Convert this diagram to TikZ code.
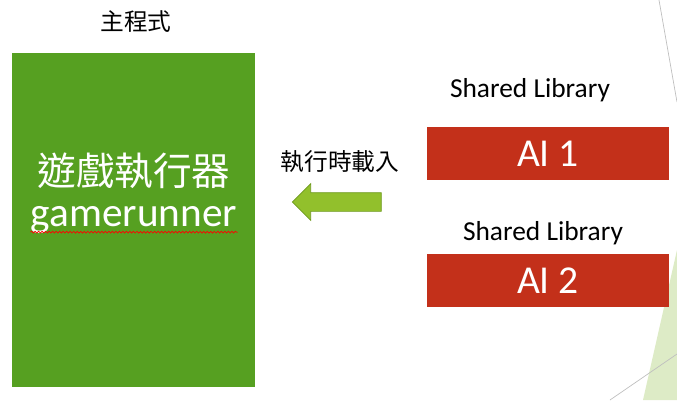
\documentclass[tikz,border=0pt]{standalone}
\usepackage{fontspec}
\setmainfont{Carlito}
\newfontfamily\cjk{Noto Sans CJK TC}
\usepackage{tikz}
\usetikzlibrary{shapes.arrows,decorations.pathmorphing}
\definecolor{runnergreen}{HTML}{56A021}
\definecolor{libred}{HTML}{C3301A}
\definecolor{loadgreen}{HTML}{92C02C}
\definecolor{loadedge}{HTML}{6E9A1E}
\definecolor{themegreen}{HTML}{DDEBC6}
\tikzset{
  caption/.style={font=\fontsize{13.5}{16}\selectfont},
  libcaption/.style={font=\fontsize{15.6}{18}\selectfont},
  libbox/.style={fill=libred,text=white,inner sep=0,minimum width=4.84cm,minimum height=1.06cm,font=\fontsize{22.5}{26}\selectfont},
}

\begin{document}
\begin{tikzpicture}[x=0.02cm,y=-0.02cm]
			\useasboundingbox (0,0) rectangle (677,400);
			\fill[themegreen] (643,400) -- (677,250) -- (677,400) -- cycle;
			\draw[gray!50,thin] (659,0) -- (677,102);
			\draw[gray!50,thin] (610,400) -- (677,354);

			\node[caption] (maintitle) at (136,22) {\cjk 主程式};
			\node[fill=runnergreen,inner sep=0,minimum width=4.86cm,minimum height=6.68cm] (runner) at (133.5,220) {};
			\node[text=white,font=\fontsize{22}{26}\selectfont] (runnercjk) at (134,171) {\cjk 遊戲執行器};
			\node[text=white,font=\fontsize{23.5}{26}\selectfont,anchor=base,inner sep=0] (runnerlatin) at (134,226) {gamerunner};
			\draw[red,thin,decorate,decoration={snake,amplitude=0.5pt,segment length=2pt}]
				([yshift=-3.5pt]runnerlatin.base west) -- ([yshift=-3.5pt]runnerlatin.base east);

			\node[caption] (loadtext) at (340,162) {\cjk 執行時載入};
			\node[single arrow,shape border rotate=180,fill=loadgreen,draw=loadedge,inner xsep=0,inner ysep=0.18cm,
				minimum height=1.78cm,single arrow head extend=0.18cm] (load) at (341.5,202) {};

			\node[libcaption] (libtitle1) at (530,90) {Shared Library};
			\node[libbox] (ai1) at (548,153.5) {AI 1};
			\node[libcaption] (libtitle2) at (543,233) {Shared Library};
			\node[libbox] (ai2) at (548,280.5) {AI 2};
		\end{tikzpicture}
\end{document}
